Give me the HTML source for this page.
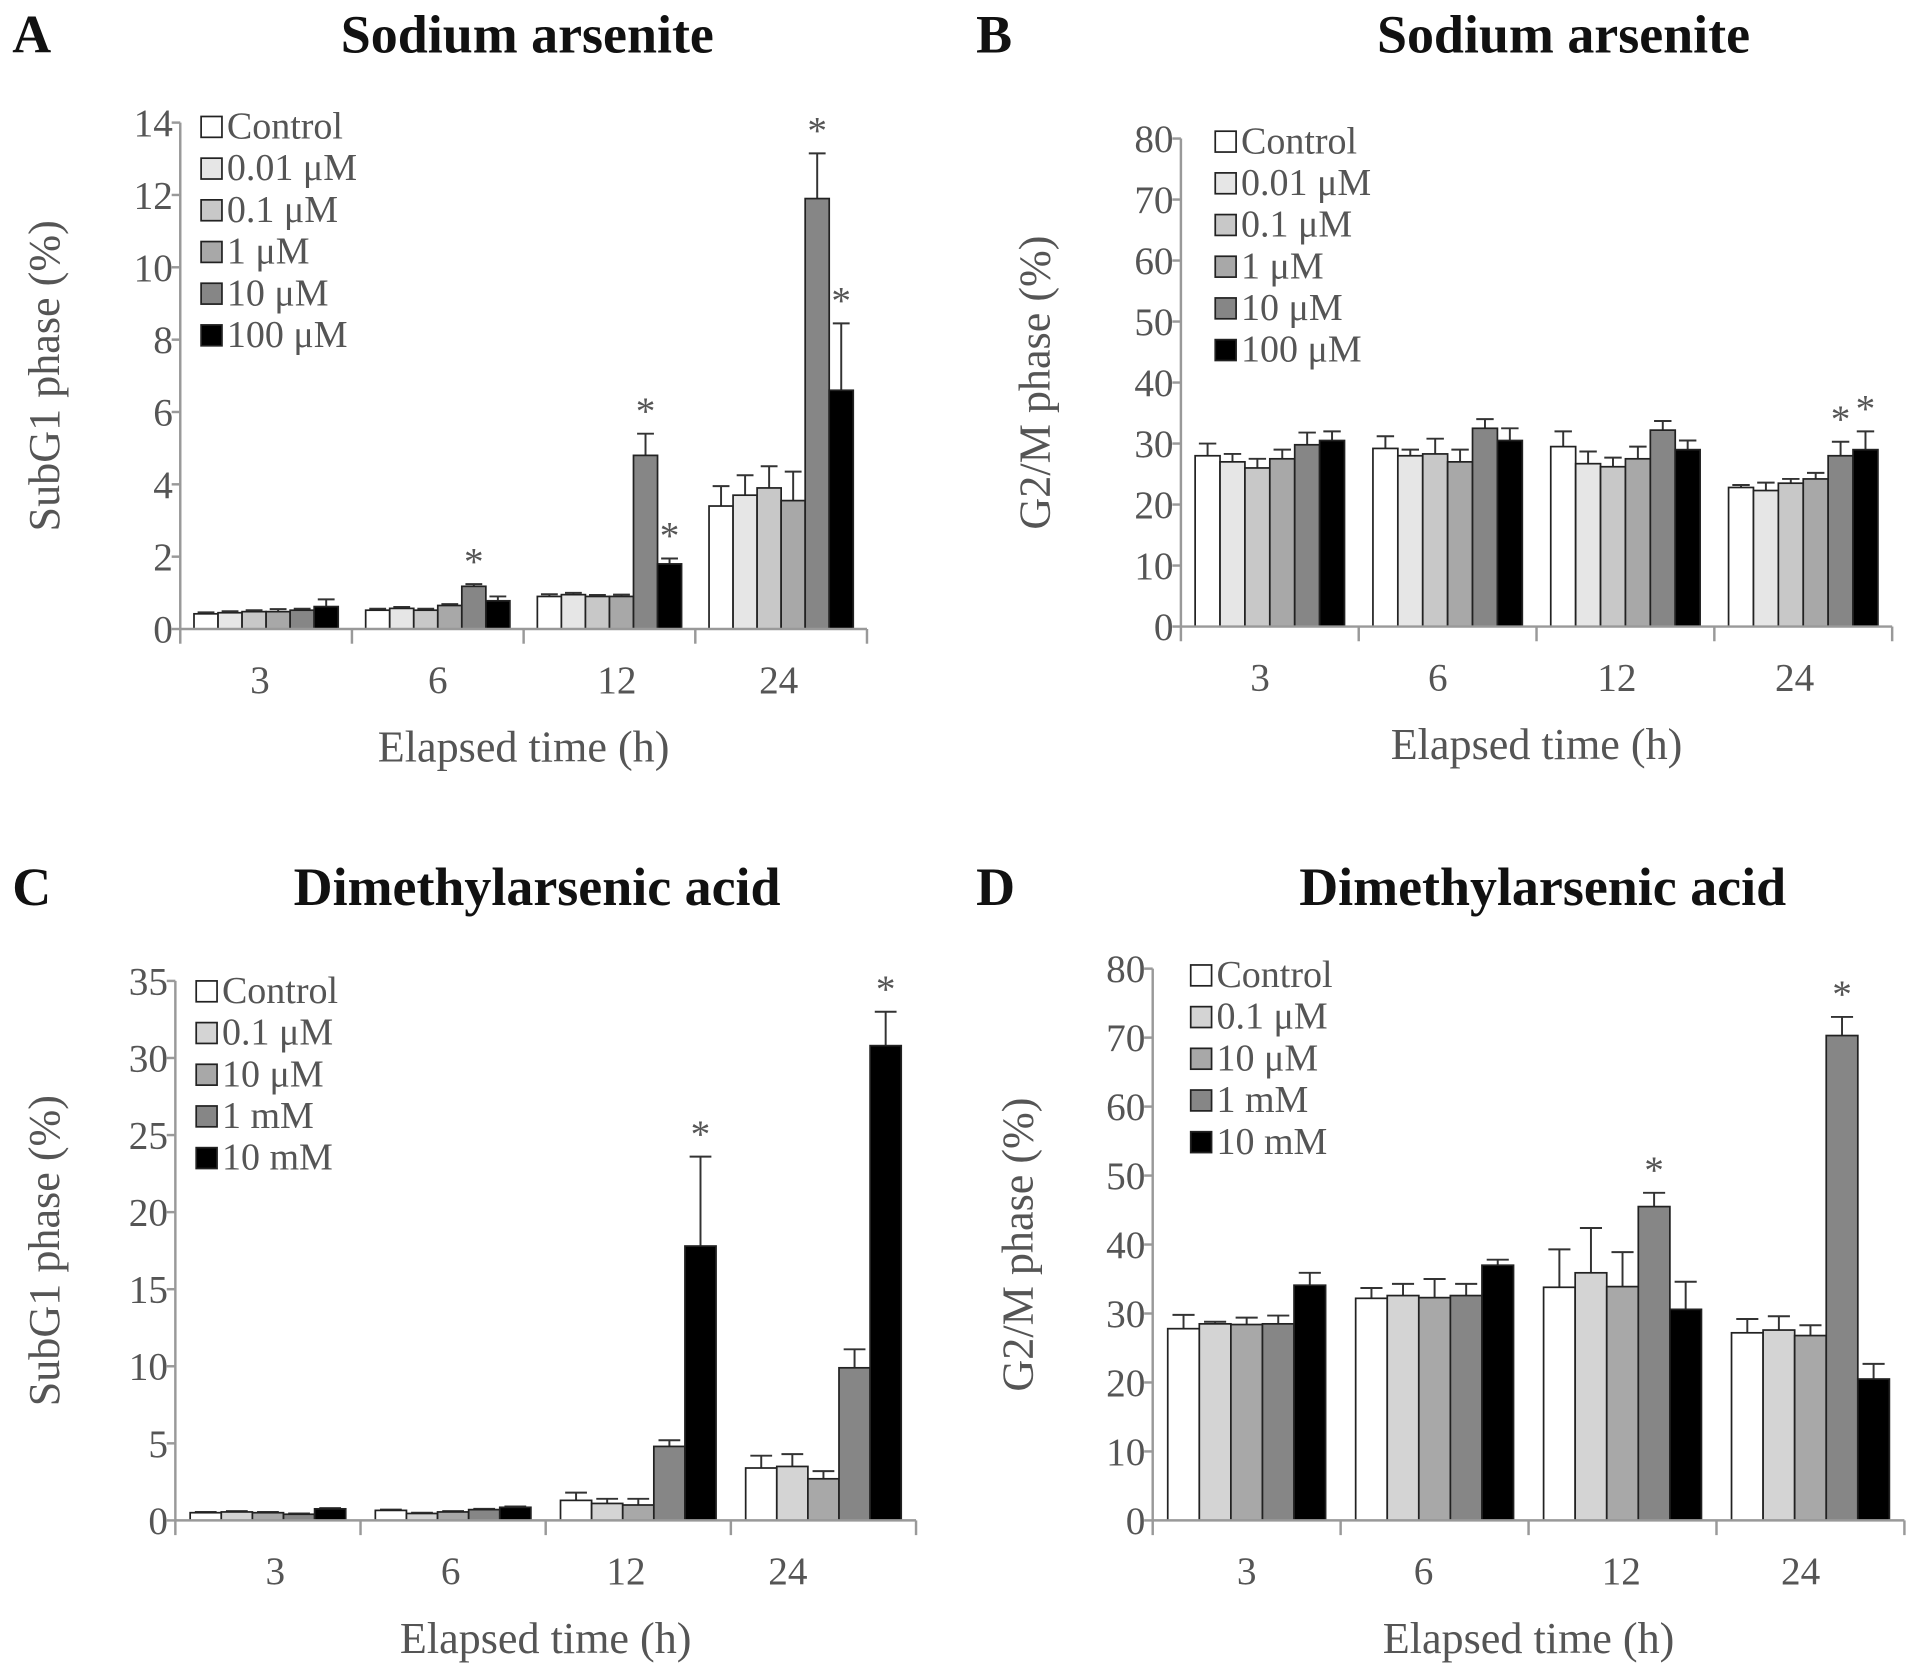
<!DOCTYPE html>
<html><head><meta charset="utf-8"><style>
html,body{margin:0;padding:0;background:#fff;}
svg{display:block;}
text{font-family:"Liberation Serif",serif;}
</style></head><body>
<svg id="fig" width="1913" height="1670" viewBox="0 0 1560 1362" preserveAspectRatio="none" xmlns="http://www.w3.org/2000/svg"></svg>
<script>
const categories = ["3","6","12","24"];
// Panel A
const aSeries = ["Control","0.01 μM","0.1 μM","1 μM","10 μM","100 μM"];
const aValues = [[0.42,0.52,0.9,3.4],[0.45,0.57,0.95,3.7],[0.48,0.52,0.9,3.9],[0.48,0.65,0.9,3.55],[0.52,1.18,4.8,11.9],[0.62,0.78,1.8,6.6]];
const aErrors = [[0.04,0.04,0.06,0.55],[0.04,0.04,0.05,0.55],[0.04,0.04,0.04,0.6],[0.07,0.04,0.05,0.8],[0.04,0.06,0.6,1.25],[0.2,0.12,0.15,1.85]];
const aStars = [[1,4],[2,4],[2,5],[3,4],[3,5]];
const aTicks = [0,2,4,6,8,10,12,14];
// Panel B
const bValues = [[28,29.2,29.5,22.8],[27,28,26.7,22.3],[26,28.3,26.2,23.5],[27.5,27,27.5,24.2],[29.8,32.5,32.2,28],[30.5,30.5,29,29]];
const bErrors = [[2,2,2.5,0.4],[1.3,1,2,1.3],[1.5,2.5,1.5,0.7],[1.5,2,2,1],[2,1.5,1.5,2.3],[1.5,2,1.5,3]];
const bStars = [[3,4],[3,5]];
const gTicks = [0,10,20,30,40,50,60,70,80];
// Panel C
const cSeries = ["Control","0.1 μM","10 μM","1 mM","10 mM"];
const cValues = [[0.5,0.65,1.3,3.4],[0.55,0.45,1.1,3.5],[0.5,0.55,1.0,2.7],[0.4,0.7,4.8,9.9],[0.75,0.85,17.8,30.8]];
const cErrors = [[0.05,0.05,0.5,0.8],[0.05,0.05,0.3,0.8],[0.05,0.05,0.4,0.5],[0.05,0.05,0.4,1.2],[0.05,0.05,5.8,2.2]];
const cStars = [[2,4],[3,4]];
const cTicks = [0,5,10,15,20,25,30,35];
// Panel D
const dValues = [[27.8,32.2,33.8,27.2],[28.5,32.6,35.9,27.6],[28.4,32.3,33.9,26.8],[28.5,32.6,45.5,70.3],[34.1,37,30.6,20.5]];
const dErrors = [[2,1.5,5.5,2],[0.3,1.7,6.5,2],[1,2.7,5,1.5],[1.2,1.7,2,2.7],[1.8,0.8,4,2.2]];
const dStars = [[2,3],[3,3]];

const fills6 = ["#ffffff","#e6e6e6","#c8c8c8","#a8a8a8","#868686","#000000"];
const fills5 = ["#ffffff","#d4d4d4","#a8a8a8","#868686","#000000"];
const NS="http://www.w3.org/2000/svg";
const svg=document.getElementById('fig');
function mk(tag,attrs,parent){const e=document.createElementNS(NS,tag);for(const k in attrs)e.setAttribute(k,attrs[k]);(parent||svg).appendChild(e);return e;}

function panel(o){
  const g=mk('g',{});
  
  
  const yMax=o.ticks[o.ticks.length-1];
  const ys=v=>o.y0-(v/yMax)*(o.y0-o.yTop);
  const gw=(o.x1-o.x0)/categories.length;
  const n=o.series.length;
  const bw=gw*0.84/n;
  const xs=(ci,si)=>o.x0+gw*ci+gw*0.08+bw*si;
  let t=mk('text',{x:o.lx,y:o.ty,'font-size':44,'font-weight':'bold',fill:'#111'},g);t.textContent=o.id;
  
  t=mk('text',{x:o.tx,y:o.ty,'font-size':44,'font-weight':'bold',fill:'#111','text-anchor':'middle'},g);t.textContent=o.title;
  
  for(let s=0;s<n;s++){for(let c=0;c<categories.length;c++){
    const v=o.values[s][c],e=o.errors[s][c];
    const x=xs(c,s),y=ys(v);
    const bx=x+bw/2;
    const el=mk('line',{x1:bx,x2:bx,y1:y,y2:ys(v+e),stroke:'#333','stroke-width':1.6},g);
    
    const cap=mk('line',{x1:bx-bw*0.35,x2:bx+bw*0.35,y1:ys(v+e),y2:ys(v+e),stroke:'#333','stroke-width':1.6},g);
    
    const r=mk('rect',{x:x,y:y,width:bw,height:o.y0-y,fill:o.fills[s],stroke:'#222','stroke-width':1.4},g);
    
  }}
  o.stars.forEach(([c,s])=>{const v=o.values[s][c]+o.errors[s][c];
    const st=mk('text',{x:xs(c,s)+bw/2,y:ys(v)-8,'font-size':32,fill:'#555','text-anchor':'middle'},g);st.textContent='*';
    });
  const ax=mk('line',{x1:o.x0,x2:o.x0,y1:o.yTop,y2:o.y0,stroke:'#999','stroke-width':2},g);
  
  const bx2=mk('line',{x1:o.x0,x2:o.x1,y1:o.y0,y2:o.y0,stroke:'#999','stroke-width':2},g);
  
  o.ticks.forEach(v=>{mk('line',{x1:o.x0-7,x2:o.x0,y1:ys(v),y2:ys(v),stroke:'#999','stroke-width':2},g);
    const tl=mk('text',{x:o.x0-6,y:ys(v)+11,'font-size':32,fill:'#555','text-anchor':'end'},g);tl.textContent=v;
    });
  for(let c=0;c<=categories.length;c++){mk('line',{x1:o.x0+gw*c,x2:o.x0+gw*c,y1:o.y0,y2:o.y0+12,stroke:'#999','stroke-width':2},g);}
  categories.forEach((c,i)=>{const tl=mk('text',{x:o.x0+gw*(i+0.5)+(o.xoff?o.xoff[i]:0),y:o.y0+52,'font-size':32,fill:'#555','text-anchor':'middle'},g);tl.textContent=c;
    });
  t=mk('text',{x:(o.x0+o.x1)/2,y:o.y0+108,'font-size':36,fill:'#555','text-anchor':'middle'},g);t.textContent='Elapsed time (h)';
  
  const yc=(o.y0+o.yTop)/2;
  t=mk('text',{x:o.ylx,y:yc,'font-size':36,fill:'#555','text-anchor':'middle',transform:`rotate(-90 ${o.ylx} ${yc})`},g);t.textContent=o.ylabel;
  
  o.series.forEach((s,i)=>{const y=o.legY+i*o.legDy;
    const lg=mk('g',{},g);
    mk('rect',{x:o.legX,y:y-18,width:17,height:17,fill:o.fills[i],stroke:'#222','stroke-width':1.4},lg);
    const lt=mk('text',{x:o.legX+21,y:y,'font-size':31,fill:'#555'},lg);lt.textContent=s;});
}
panel({id:'A',title:'Sodium arsenite',lx:10,tx:430,ty:43,x0:147,x1:707,y0:513,yTop:100,ticks:aTicks,series:aSeries,values:aValues,errors:aErrors,stars:aStars,fills:fills6,ylabel:'SubG1 phase (%)',ylx:48,legX:164,legY:113,legDy:34,xoff:[-5,0,6,-2]});
panel({id:'B',title:'Sodium arsenite',lx:796,tx:1275,ty:43,x0:963,x1:1543,y0:511,yTop:113,ticks:gTicks,series:aSeries,values:bValues,errors:bErrors,stars:bStars,fills:fills6,ylabel:'G2/M phase (%)',ylx:856,legX:991,legY:125,legDy:34,xoff:[-8,-8,-7,-7]});
panel({id:'C',title:'Dimethylarsenic acid',lx:10,tx:438,ty:738,x0:143,x1:747,y0:1240,yTop:800,ticks:cTicks,series:cSeries,values:cValues,errors:cErrors,stars:cStars,fills:fills5,ylabel:'SubG1 phase (%)',ylx:48,legX:160,legY:818,legDy:34,xoff:[6,-2,-10,-29]});
panel({id:'D',title:'Dimethylarsenic acid',lx:796,tx:1258,ty:738,x0:940,x1:1553,y0:1240,yTop:790,ticks:gTicks,series:cSeries,values:dValues,errors:dErrors,stars:dStars,fills:fills5,ylabel:'G2/M phase (%)',ylx:842,legX:971,legY:805,legDy:34,xoff:[0,-9,-1,-8]});
</script>
</body></html>
